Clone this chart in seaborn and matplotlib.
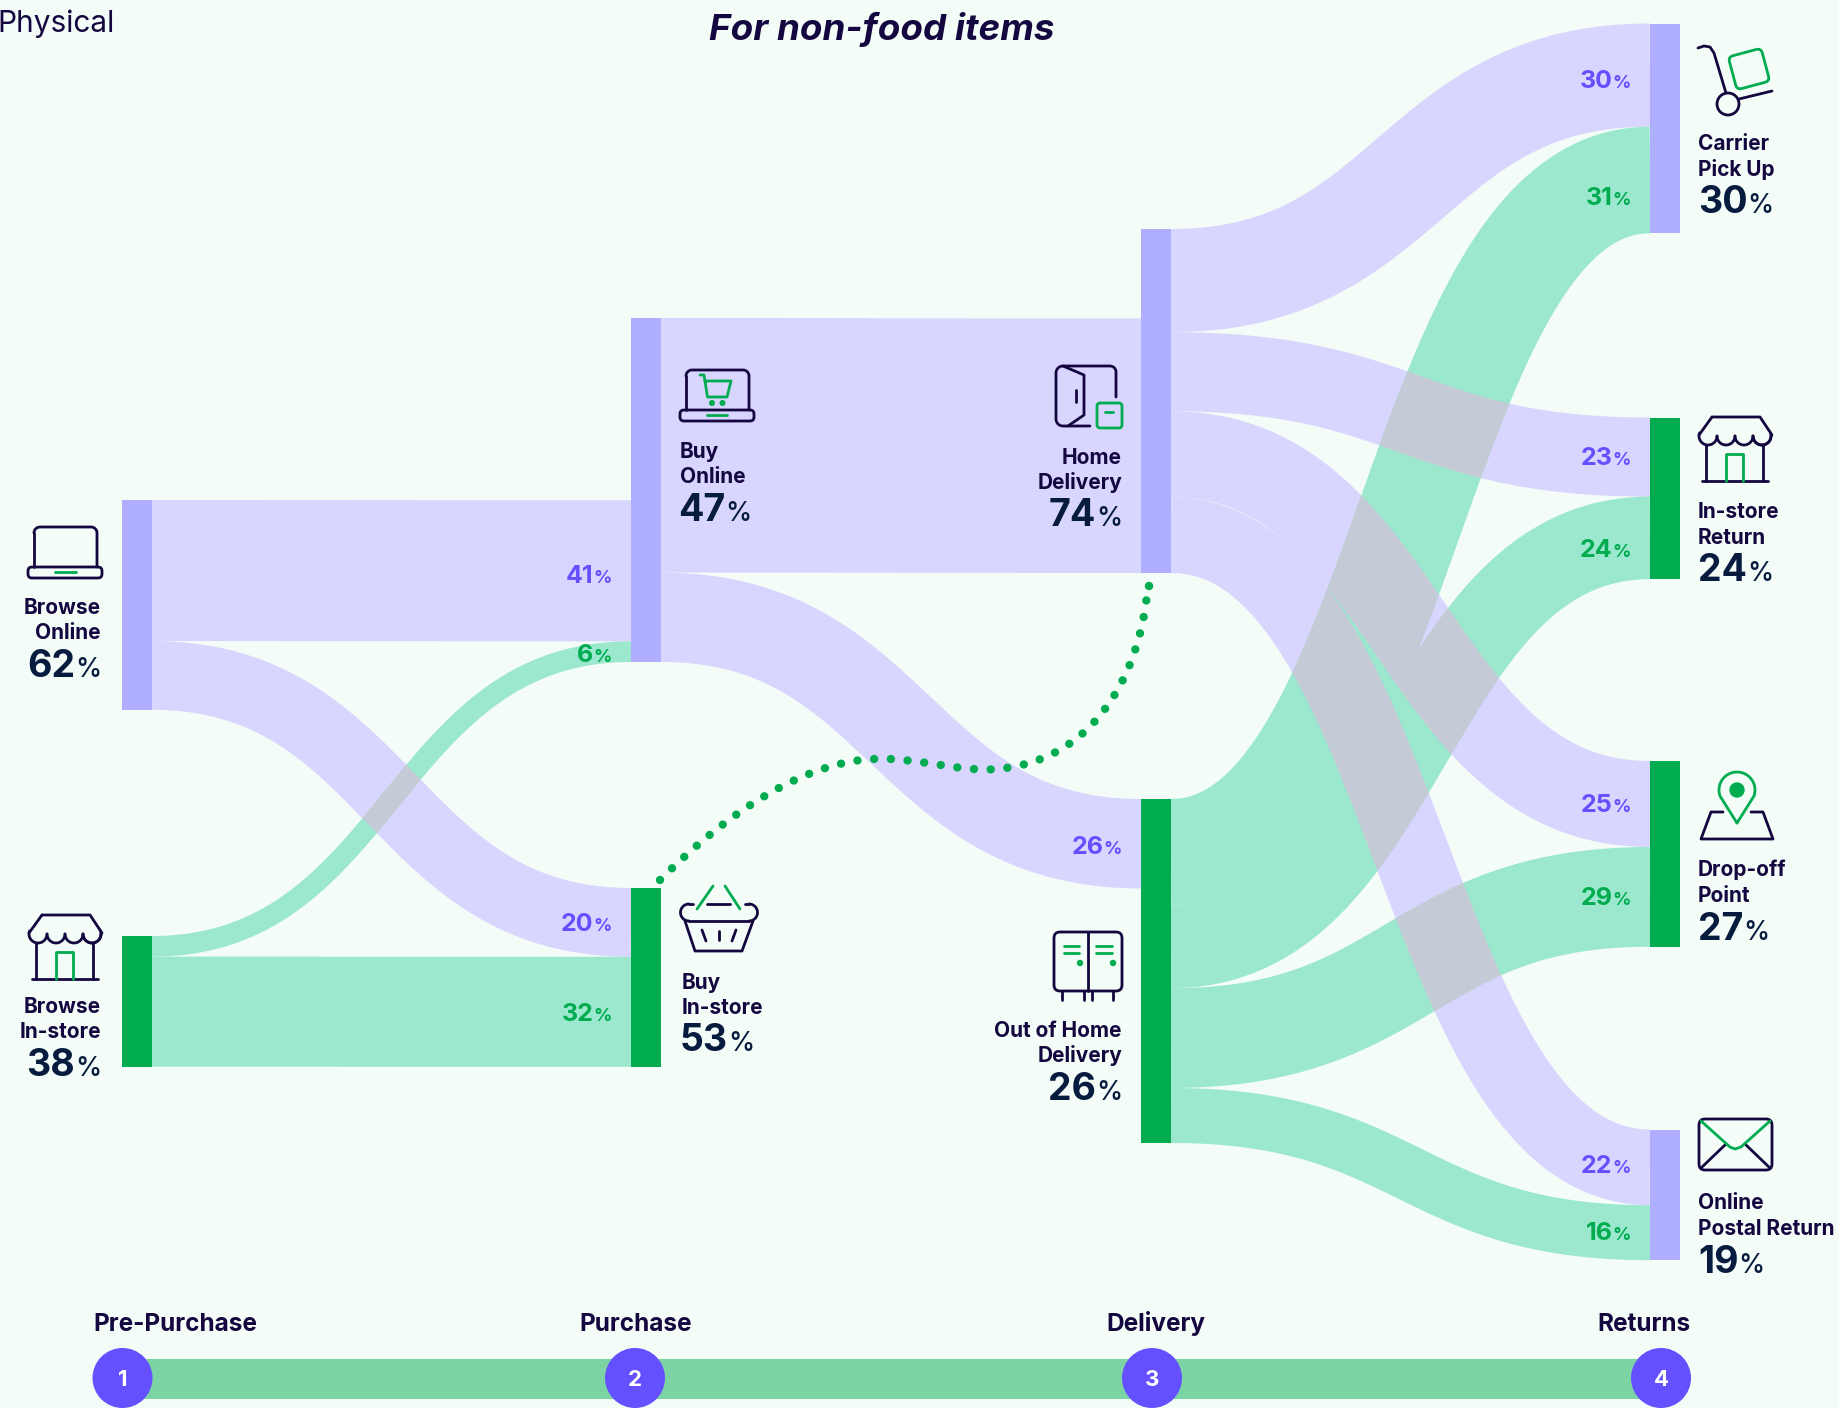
import numpy as np
import seaborn as sns
import matplotlib.pyplot as plt
from matplotlib.path import Path
from matplotlib.patches import PathPatch, FancyBboxPatch, Circle, Rectangle
from matplotlib.transforms import Affine2D

# chart values, in percent
node_names = ['Browse Online', 'Browse In-store', 'Buy Online', 'Buy In-store', 'Home Delivery',
              'Out of Home Delivery', 'Carrier Pick Up', 'In-store Return', 'Drop-off Point', 'Online Postal Return']
node_labels = [['Browse', 'Online'], ['Browse', 'In-store'], ['Buy', 'Online'], ['Buy', 'In-store'], ['Home', 'Delivery'],
               ['Out of Home', 'Delivery'], ['Carrier', 'Pick Up'], ['In-store', 'Return'], ['Drop-off', 'Point'],
               ['Online', 'Postal Return']]
node_values = [62, 38, 47, 53, 74, 26, 30, 24, 27, 19]
link_source = ['Browse Online', 'Browse Online', 'Browse In-store', 'Browse In-store',
               'Buy Online', 'Buy Online',
               'Home Delivery', 'Home Delivery', 'Home Delivery', 'Home Delivery',
               'Out of Home Delivery', 'Out of Home Delivery', 'Out of Home Delivery', 'Out of Home Delivery']
link_target = ['Buy Online', 'Buy In-store', 'Buy Online', 'Buy In-store',
               'Home Delivery', 'Out of Home Delivery',
               'Carrier Pick Up', 'In-store Return', 'Drop-off Point', 'Online Postal Return',
               'Carrier Pick Up', 'In-store Return', 'Drop-off Point', 'Online Postal Return']
link_values = [41, 20, 6, 32, 74, 26, 30, 23, 25, 22, 31, 24, 29, 16]
step_names = ['Pre-Purchase', 'Purchase', 'Delivery', 'Returns']

# colours
BG = '#F3FCF7'
NAVY = '#14063F'
NUM = '#071B3F'
PURPLE = '#6450FF'
GREEN = '#00AC4F'
NODE_P = '#B0AEFF'
NODE_G = '#00AC4F'
LINK_P = '#D8D6FE'
LINK_G = '#9CE8CE'
OVERLAP = '#C4CAD6'
BAR = '#7CD4A4'

FONT = 'Inter'
PX = 3.44  # pixels per percent
NODE_W = 30
LW = 2.0

sns.set_theme(style='white')
plt.rcParams['font.family'] = [FONT, 'DejaVu Sans']
fig = plt.figure(figsize=(18.39, 14.08), dpi=100, facecolor=BG)
ax = fig.add_axes([0, 0, 1, 1])
ax.set_facecolor(BG)
renderer = fig.canvas.get_renderer()

# layout, in figure pixels
node_left = dict(zip(node_names, [122, 122, 631, 631, 1141, 1141, 1650, 1650, 1650, 1650]))
node_top = dict(zip(node_names, [500, 936, 318, 888, 229, 799, 23.5, 417.5, 761, 1129.5]))
node_col = dict(zip(node_names, [NODE_P, NODE_G, NODE_P, NODE_G, NODE_P, NODE_G, NODE_P, NODE_G, NODE_G, NODE_P]))
top_aligned_in = ['Out of Home Delivery']
link_dy = [4, 1, 2, 1, 0, 2, 5, 0, 0, -2, 17, 11, 0, -1]

sums_out = {n: sum(v for s, v in zip(link_source, link_values) if s == n) for n in node_names}
sums_in = {n: sum(v for t, v in zip(link_target, link_values) if t == n) for n in node_names}
node_h = {n: max(sums_out[n], sums_in[n]) * PX for n in node_names}


def ribbon(x0, x1, y0, y1, h):
    # thick stroke along a horizontal sankey curve, returned as an outline
    t = np.linspace(0, 1, 500)
    xs = x0 + (x1 - x0) * (1.5 * t * (1 - t) + t ** 3)
    ys = y0 + (y1 - y0) * (3 * t ** 2 - 2 * t ** 3)
    dx, dy = np.gradient(xs), np.gradient(ys)
    nn = np.hypot(dx, dy)
    nx, ny = -dy / nn, dx / nn
    up = np.column_stack([xs + nx * h / 2, ys + ny * h / 2])
    dn = np.column_stack([xs - nx * h / 2, ys - ny * h / 2])
    return Path(np.vstack([up, dn[::-1], up[:1]]))


# walk the links to get where each one starts and ends
out_pos = {n: node_top[n] for n in node_names}
in_pos = {}
for n in node_names:
    if n in top_aligned_in:
        in_pos[n] = node_top[n]
    else:
        in_pos[n] = node_top[n] + node_h[n] - sums_in[n] * PX

links = []
for s, t, v, dy in zip(link_source, link_target, link_values, link_dy):
    x0 = node_left[s] + NODE_W
    x1 = node_left[t]
    h = v * PX
    y0, y1 = out_pos[s], in_pos[t]
    out_pos[s] += h
    in_pos[t] += h
    col = LINK_P if node_col[s] == NODE_P or s == 'Buy Online' else LINK_G
    links.append(dict(path=ribbon(x0, x1, y0 + h / 2, y1 + h / 2, h), col=col, x0=x0, x1=x1, y1=y1, h=h, v=v, dy=dy, t=t))

for li in links:
    ax.add_patch(PathPatch(li['path'], fc=li['col'], ec='none', zorder=1))

# where a purple and a green flow cross the colour goes grey
for a in links:
    for b in links:
        if a['col'] == LINK_P and b['col'] == LINK_G and a['x0'] == b['x0']:
            p = PathPatch(a['path'], fc=OVERLAP, ec='none', zorder=2)
            ax.add_patch(p)
            p.set_clip_path(b['path'], ax.transData)

for n in node_names:
    sns.barplot(x=[node_left[n] + NODE_W / 2], y=[node_h[n]], bottom=node_top[n], width=NODE_W, native_scale=True,
                color=node_col[n], saturation=1, linewidth=0, zorder=3, ax=ax)


def pct(x, y, num, big, small, col, ha='right', gap=0, pweight='normal'):
    # number and a smaller % sign, gap is how far the number moves towards the sign
    if ha == 'right':
        p = ax.text(x, y, '%', fontsize=small, color=col, ha='right', va='baseline', fontweight=pweight, zorder=6)
        w = p.get_window_extent(renderer).width
        ax.text(x - w + gap, y, str(num), fontsize=big, color=col, ha='right', va='baseline', fontweight='bold', zorder=6)
    else:
        t = ax.text(x, y, str(num), fontsize=big, color=col, ha='left', va='baseline', fontweight='bold', zorder=6)
        w = t.get_window_extent(renderer).width
        ax.text(x + w - gap, y, '%', fontsize=small, color=col, ha='left', va='baseline', fontweight=pweight, zorder=6)


# flow labels next to the node they run into; Home Delivery already carries its 74%
for li in links:
    if li['t'] == 'Home Delivery':
        continue
    col = PURPLE if li['col'] == LINK_P else GREEN
    yc = li['y1'] + li['h'] / 2 + li['dy']
    pct(li['x1'] - 19, yc + 8, li['v'], 18, 13, col, gap=0, pweight='bold')

# node captions: anchor x, alignment, baselines of the two lines and the number
caption_x = [101, 101, 678, 680, 1122, 1122, 1698, 1698, 1698, 1698]
caption_ha = ['right', 'right', 'left', 'left', 'right', 'right', 'left', 'left', 'left', 'left']
caption_y = [(614, 639, 677), (1013, 1038, 1076), (458, 483, 521), (989, 1014, 1051), (464, 489, 526),
             (1037, 1062, 1100), (150, 176, 213), (518, 544, 581), (876, 902, 940), (1209, 1235, 1273)]
for lab, val, cx, ha, cy in zip(node_labels, node_values, caption_x, caption_ha, caption_y):
    for line, by in zip(lab, cy[:2]):
        ax.text(cx + (2 if ha == 'left' and cx < 1000 else 0), by, line, fontsize=15, color=NAVY, ha=ha, va='baseline',
                fontweight='bold', zorder=6)
    pct(cx, cy[2], val, 27, 19, NUM, ha=ha, gap=0, pweight='medium')

# dotted link between Buy In-store and Home Delivery
verts = [(660, 880), (740, 800), (820, 755), (890, 759), (930, 761), (965, 772), (996, 769),
         (1090, 762), (1140, 680), (1148, 586)]
codes = [Path.MOVETO] + [Path.CURVE4] * 9
ax.add_patch(PathPatch(Path(verts, codes), fc='none', ec=GREEN, lw=6.0, ls=(0, (0.01, 2.0)), capstyle='round', zorder=5))
ax.add_patch(Circle((1149, 586), 4.2, fc=GREEN, ec='none', zorder=5))


# line icons
def stroke(pts, col=NAVY, lw=LW, closed=False):
    pts = list(pts)
    if closed:
        pts = pts + [pts[0]]
    xs, ys = zip(*pts)
    ax.plot(xs, ys, color=col, lw=lw, solid_capstyle='round', solid_joinstyle='round', zorder=7)


def rbox(x0, y0, w, h, r, col=NAVY, lw=LW, tr=None):
    p = FancyBboxPatch((x0 + r, y0 + r), w - 2 * r, h - 2 * r, boxstyle='round,pad=%g,rounding_size=%g' % (r, r),
                       fc='none', ec=col, lw=lw, zorder=7)
    if tr is not None:
        p.set_transform(tr + ax.transData)
    ax.add_patch(p)


def arc(cx, cy, r, a0, a1):
    a = np.radians(np.linspace(a0, a1, 30))
    return list(zip(cx + r * np.cos(a), cy + r * np.sin(a)))


def laptop(x, y):
    stroke(arc(x + 12, y + 6, 6, 180, 270) + arc(x + 63, y + 6, 6, 270, 360) + [(x + 69, y + 40)])
    stroke([(x + 6, y + 6), (x + 6, y + 40)])
    rbox(x, y + 40, 74, 11, 4)


def store(x, y):
    pts = [(x + 14, y)] + [(x + 62, y)] + [(x + 74, y + 18)]
    stroke(pts)
    stroke([(x + 14, y), (x + 1, y + 18)])
    stroke(arc(x + 10, y + 19, 9, 0, 200))
    for c in (28, 46, 64):
        stroke(arc(x + c, y + 19, 9, 0, 180))
    stroke(arc(x + 64, y + 19, 9, -20, 180))
    stroke([(x + 8, y + 28), (x + 8, y + 64)])
    stroke([(x + 65, y + 28), (x + 65, y + 64)])
    stroke([(x + 4, y + 64), (x + 70, y + 64)])
    stroke([(x + 28, y + 64), (x + 28, y + 37), (x + 45, y + 37), (x + 45, y + 64)], col=GREEN)


laptop(28, 527)
stroke([(55, 572), (76, 572)], col=GREEN)

laptop(680, 370)
stroke([(700, 375), (704, 375), (707.5, 397), (727, 397), (731, 381), (705, 381)], col=GREEN)
ax.add_patch(Circle((712, 403), 2.3, color=GREEN, zorder=7))
ax.add_patch(Circle((722.5, 403), 2.3, color=GREEN, zorder=7))
stroke([(707, 415), (727, 415)], col=GREEN)

store(28, 915)
store(1698, 417)

# basket
stroke(arc(689, 912.5, 8.5, 90, 270))
stroke(arc(749, 912.5, 8.5, -90, 90))
stroke([(689, 904), (693, 904)])
stroke([(707, 904), (730, 904)])
stroke([(745, 904), (749, 904)])
stroke([(689, 921), (749, 921)])
stroke([(685, 921), (695, 951), (742, 951), (753, 921)])
stroke([(702, 930), (706, 941)])
stroke([(719, 931), (719, 940)])
stroke([(736, 930), (732, 941)])
stroke([(697, 909), (713, 886)], col=GREEN)
stroke([(725, 886), (740, 909)], col=GREEN)

# door with parcel
stroke([(1090, 426), (1063, 426)] + arc(1063, 419, 7, 90, 180) + [(1056, 373)] + arc(1063, 373, 7, 180, 270)
       + arc(1110, 372, 6, 270, 360) + [(1116, 397)])
stroke([(1063, 366), (1084, 375), (1084, 415), (1068, 426)])
stroke([(1076, 390), (1076, 402)])
rbox(1097, 403, 25, 25, 3, col=GREEN)
stroke([(1105, 412), (1113, 412)], col=GREEN)

# lockers
rbox(1054, 932, 68, 59, 6)
stroke([(1088, 932), (1088, 991)])
for lx in (1062, 1084, 1092, 1113):
    stroke([(lx, 991), (lx, 1000)])
for lx0, lx1, dx in ((1064, 1079, 1080), (1096, 1112, 1113)):
    stroke([(lx0, 946), (lx1, 946)], col=GREEN)
    stroke([(lx0, 953), (lx1, 953)], col=GREEN)
    ax.add_patch(Circle((dx, 963), 2.5, color=GREEN, zorder=7))

# trolley
stroke([(1698, 48), (1704, 46), (1710, 47), (1714, 53), (1726, 93)])
ax.add_patch(Circle((1728, 104), 11, fc='none', ec=NAVY, lw=LW, zorder=7))
stroke([(1739, 99), (1772, 91)])
rbox(1732, 52, 34, 34, 5, col=GREEN, tr=Affine2D().rotate_deg_around(1749, 69, -15))

# map pin
pin = arc(1737, 790, 18, 160, 380)
stroke([(1737, 823)] + pin + [(1737, 823)], col=GREEN)
ax.add_patch(Circle((1737, 790), 7, color=GREEN, zorder=7))
stroke([(1723, 812), (1711, 812), (1701, 839), (1773, 839), (1763, 812), (1751, 812)])

# envelope
rbox(1699, 1119, 73, 51, 6)
stroke([(1701, 1168), (1726, 1144)])
stroke([(1770, 1168), (1745, 1144)])
stroke([(1701, 1121), (1730, 1147), (1735, 1149), (1741, 1147), (1770, 1121)], col=GREEN)

# headings
ax.text(-3, 32, 'Physical', fontsize=21.5, color=NAVY, ha='left', va='baseline', fontweight='normal')
ax.text(882, 40, 'For non-food items', fontsize=26.5, color=NAVY, ha='center', va='baseline', fontweight='bold', style='italic')

# process bar along the bottom
circ_x = [122.5, 635, 1152, 1661]
ax.add_patch(Rectangle((circ_x[0], 1359), circ_x[-1] - circ_x[0], 40, fc=BAR, ec='none', zorder=3))
step_x = [93, 636, 1156, 1691]
step_ha = ['left', 'center', 'center', 'right']
for i, (nm, sx, ha, cx) in enumerate(zip(step_names, step_x, step_ha, circ_x)):
    ax.text(sx, 1331, nm, fontsize=17.5, color=NAVY, ha=ha, va='baseline', fontweight='bold')
    ax.add_patch(Circle((cx, 1378), 30, fc=PURPLE, ec='none', zorder=4))
    ax.text(cx, 1386, str(i + 1), fontsize=16, color='white', ha='center', va='baseline', fontweight='bold', zorder=5)

ax.set_xlim(0, 1839)
ax.set_ylim(1408, 0)
ax.axis('off')
fig.savefig('out.png', dpi=100, facecolor=BG)
